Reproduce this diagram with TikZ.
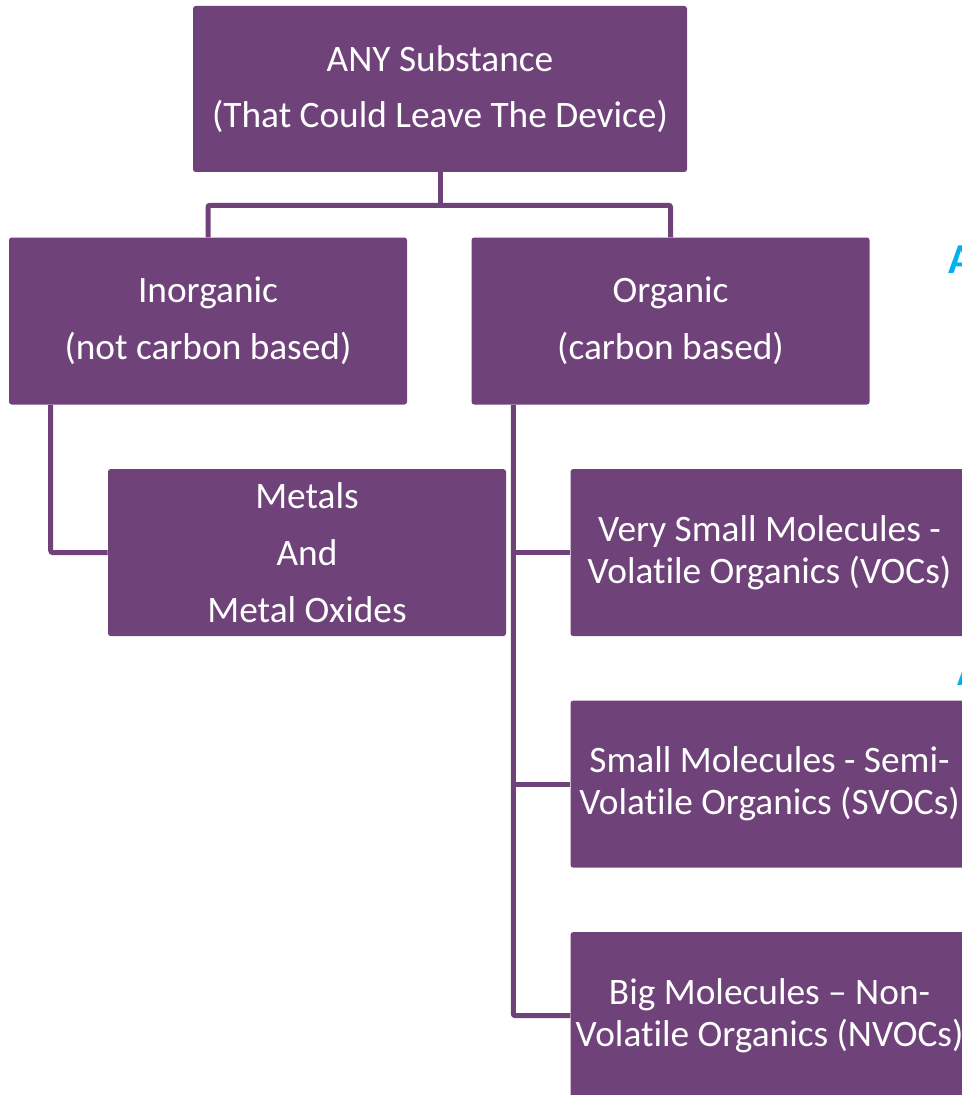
\documentclass[tikz,border=0pt]{standalone}
\usepackage{fontspec}
\setmainfont{Carlito}[Ligatures=CommonOff]
\usepackage{xcolor}
\usetikzlibrary{positioning}
\definecolor{boxpurple}{RGB}{112,66,122}
\definecolor{cutblue}{RGB}{0,176,240}

\begin{document}
\begin{tikzpicture}[x=0.75pt, y=-0.75pt,
        block/.style={rectangle, fill=boxpurple, text=white, align=center, rounded corners=2pt, minimum width=298.5pt, minimum height=125.25pt, font=\fontsize{28}{42.5}\selectfont},
        topblock/.style={block, minimum width=370.5pt, minimum height=124.5pt},
        orgblock/.style={block, font=\fontsize{28}{31.5}\selectfont},
        cutletter/.style={text=cutblue, font=\fontsize{32}{32}\selectfont\bfseries, anchor=base west, inner sep=0pt},
        link/.style={draw=boxpurple, line width=3.75pt, rounded corners=1.5pt}]

        \useasboundingbox (0,0) rectangle (961,1095);

        % Nodes
        \node[topblock] (any) at (440,89) {ANY Substance\\(That Could Leave The Device)};
        \node[block, below=48.75pt of any.south west, anchor=north west, xshift=-138pt] (inorganic) {Inorganic\\(not carbon based)};
        \node[block, right=48pt of inorganic] (organic) {Organic\\(carbon based)};

        % Sub groups
        \node[block, below=48pt of inorganic.south west, anchor=north west, xshift=74.25pt] (metals) {Metals\\And\\Metal Oxides};
        \node[orgblock, below=48pt of organic.south west, anchor=north west, xshift=74.25pt] (voc) {Very Small Molecules -\\Volatile Organics (VOCs)};
        \node[orgblock, below=48pt of voc] (svoc) {Small Molecules - Semi-\\Volatile Organics (SVOCs)};
        \node[orgblock, below=48pt of svoc] (nvoc) {Big Molecules -- Non-\\Volatile Organics (NVOCs)};

        % Cut-off text at the right edge
        \node[cutletter] (cuta) at (948.5,273) {A};
        \node[cutletter] (cutb) at (957.5,685) {A};

        % Connectors
        \coordinate[below=24.75pt of any.south] (split);
        \draw[link] (any.south) -- (split);
        \draw[link] (split) -| (inorganic.north);
        \draw[link] (split) -| (organic.north);

        \coordinate[right=31.5pt of inorganic.south west] (inotrunk);
        \draw[link] (inotrunk) |- (metals.west);

        \coordinate[right=31.5pt of organic.south west] (orgtrunk);
        \draw[link] (orgtrunk) |- (nvoc.west);
        \draw[link] (orgtrunk |- voc.west) -- (voc.west);
        \draw[link] (orgtrunk |- svoc.west) -- (svoc.west);

\end{tikzpicture}
\end{document}
